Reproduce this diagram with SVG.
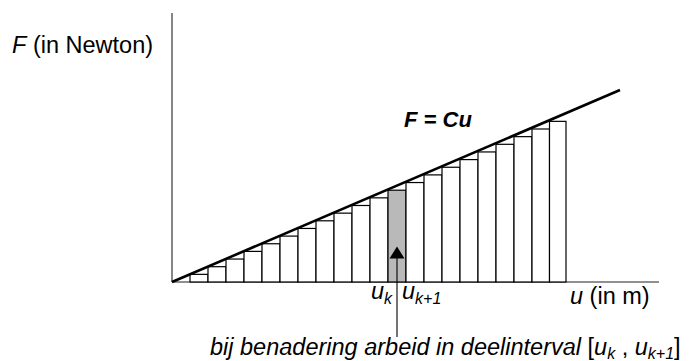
<svg xmlns="http://www.w3.org/2000/svg" width="694" height="361" viewBox="0 0 694 361">
<style>
text{font-family:"Liberation Sans",Arial,sans-serif;fill:#000}
.lbl{font-size:23.5px}
.it{font-style:italic}
.sub{font-size:16px}
.bar{fill:#fff;stroke:#000;stroke-width:1.2}
.axis{stroke:#222;stroke-width:1.1;fill:none}
</style>
<g id="axes">
<line class="axis" x1="172" y1="13" x2="172" y2="282"/>
<line class="axis" x1="172" y1="282" x2="659" y2="282"/>
</g>
<g id="bars">
<rect class="bar" x="190" y="274.35" width="18" height="7.65"/>
<rect class="bar" x="208" y="266.7" width="18" height="15.3"/>
<rect class="bar" x="226" y="259.05" width="18" height="22.95"/>
<rect class="bar" x="244" y="251.4" width="18" height="30.6"/>
<rect class="bar" x="262" y="243.75" width="18" height="38.25"/>
<rect class="bar" x="280" y="236.1" width="18" height="45.9"/>
<rect class="bar" x="298" y="228.45" width="18" height="53.55"/>
<rect class="bar" x="316" y="220.8" width="18" height="61.2"/>
<rect class="bar" x="334" y="213.15" width="18" height="68.85"/>
<rect class="bar" x="352" y="205.5" width="18" height="76.5"/>
<rect class="bar" x="370" y="197.85" width="18" height="84.15"/>
<rect id="bar-k" class="bar" style="fill:#b9b9b9" x="388" y="190.2" width="18" height="91.8"/>
<rect class="bar" x="406" y="182.55" width="18" height="99.45"/>
<rect class="bar" x="424" y="174.9" width="18" height="107.1"/>
<rect class="bar" x="442" y="167.25" width="18" height="114.75"/>
<rect class="bar" x="460" y="159.6" width="18" height="122.4"/>
<rect class="bar" x="478" y="151.95" width="18" height="130.05"/>
<rect class="bar" x="496" y="144.3" width="18" height="137.7"/>
<rect class="bar" x="514" y="136.65" width="18" height="145.35"/>
<rect class="bar" x="532" y="129" width="17.5" height="153"/>
<rect class="bar" x="549.5" y="121.35" width="16.5" height="160.65"/>
</g>
<g id="line-F">
<line x1="172" y1="282" x2="620" y2="90" stroke="#000" stroke-width="2.6"/>
<text x="404" y="127" style="font-size:22px;font-weight:bold;font-style:italic">F = Cu</text>
</g>
<g id="connectors">
<line x1="397" y1="257" x2="397" y2="337" stroke="#000" stroke-width="1.1"/>
<polygon points="397,246.5 389.5,258.5 404.5,258.5" fill="#000"/>
</g>
<g id="label-F">
<text class="lbl" x="12" y="53"><tspan class="it">F</tspan> (in Newton)</text>
</g>
<g id="label-u">
<text class="lbl" x="570" y="304"><tspan class="it">u</tspan> (in m)</text>
</g>
<g id="label-uk">
<text class="lbl it" x="371" y="299">u<tspan class="sub" dy="5">k</tspan></text>
<text class="lbl it" x="402" y="299">u<tspan class="sub" dy="5">k+1</tspan></text>
</g>
<g id="label-bottom">
<text class="lbl" x="210" y="354.5"><tspan class="it">bij benadering arbeid in deelinterval</tspan> [<tspan class="it">u</tspan><tspan class="it sub" dy="4">k</tspan><tspan dy="-4"> , </tspan><tspan class="it">u</tspan><tspan class="it sub" dy="4">k+1</tspan><tspan dy="-4">]</tspan></text>
</g>
</svg>
